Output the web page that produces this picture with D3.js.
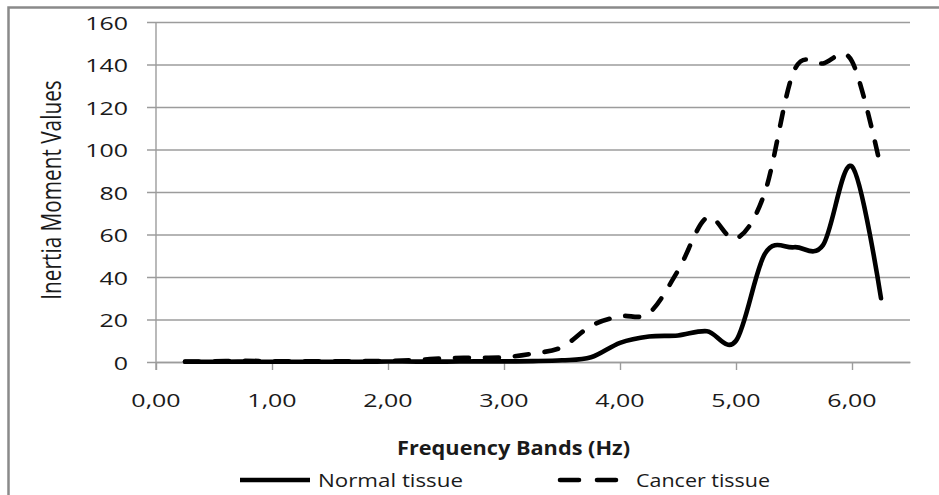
<!DOCTYPE html>
<html>
<head>
<meta charset="utf-8">
<script src="https://cdn.jsdelivr.net/npm/d3@7"></script>
<style>
  body { margin: 0; background: #fff; }
  svg { display: block; }
  text { font-family: "Open Sans", "DejaVu Sans", sans-serif; fill: #1a1a1a; }
</style>
</head>
<body>
<svg id="chart" width="939" height="495"></svg>
<script>
// Frequency bands (Hz) and inertia moment values per tissue type
const freqBands = [0.25, 0.50, 0.75, 1.00, 1.25, 1.50, 1.75, 2.00, 2.25, 2.50, 2.75, 3.00,
                   3.25, 3.50, 3.75, 4.00, 4.25, 4.50, 4.75, 5.00, 5.25, 5.50, 5.75, 6.00, 6.25];
const normalTissue = [0.1, 0.1, 0.2, 0.1, 0.1, 0.1, 0.1, 0.2, 0.2, 0.2, 0.3, 0.3,
                      0.4, 0.8, 2.2, 9, 12, 12.5, 14.5, 10, 51, 54, 55, 92, 30];
const cancerTissue = [0.2, 0.3, 0.6, 0.3, 0.3, 0.3, 0.4, 0.5, 1, 1.8, 2, 2.2,
                      4, 7, 17, 21.5, 23, 43, 68, 58, 80, 137, 140.5, 141.5, 91];
const yTicks = [0, 20, 40, 60, 80, 100, 120, 140, 160];
const xTicks = [0, 1, 2, 3, 4, 5, 6];
const seriesNames = ["Normal tissue", "Cancer tissue"];

const svg = d3.select("#chart");
const gridColor = "#9c9c9c";
const stretch = 1.35;   // glyphs are drawn wide

const x = d3.scaleLinear().domain([0, 6.5]).range([156, 910]);
const y = d3.scaleLinear().domain([0, 160]).range([362, 22]);

// outer frame
svg.append("rect")
  .attr("x", 8.5).attr("y", 7.5).attr("width", 1000).attr("height", 600)
  .attr("fill", "none").attr("stroke", "#8a8a8a").attr("stroke-width", 2.5);

// horizontal gridlines + y ticks
const yAxis = d3.axisLeft(y).tickValues(yTicks).tickSize(-(910 - 156)).tickSizeOuter(0).tickFormat("");
const gy = svg.append("g").attr("transform", "translate(156,0)").call(yAxis);
gy.select(".domain").remove();
gy.selectAll(".tick line").attr("stroke", gridColor).attr("stroke-width", 1.4)
  .attr("x1", -9);

// x axis ticks
const xAxis = d3.axisBottom(x).tickValues(xTicks).tickSize(8).tickSizeOuter(0).tickFormat("");
const gx = svg.append("g").attr("transform", "translate(0,362)").call(xAxis);
gx.select(".domain").attr("stroke", gridColor).attr("stroke-width", 1.4);
gx.selectAll(".tick line").attr("stroke", gridColor).attr("stroke-width", 1.4);

// y axis line
svg.append("line")
  .attr("x1", x(0)).attr("x2", x(0)).attr("y1", y(160)).attr("y2", 370)
  .attr("stroke", gridColor).attr("stroke-width", 1.4);

function wideText(px, py, str, anchor, size) {
  return svg.append("text")
    .attr("transform", `translate(${px},${py}) scale(${stretch},1)`)
    .attr("text-anchor", anchor)
    .style("font-size", size + "px")
    .text(str);
}

// y tick labels
yTicks.forEach(v => wideText(128, y(v) + 7.5, String(v), "end", 18.5));
// x tick labels
const fmt = v => d3.format(".2f")(v).replace(".", ",");
xTicks.forEach(v => wideText(x(v), 407, fmt(v), "middle", 18.5));

// axis titles
svg.append("text")
  .attr("transform", `translate(61,190) scale(${stretch},1) rotate(-90)`)
  .attr("text-anchor", "middle")
  .style("font-size", "20.8px")
  .text("Inertia Moment Values");

svg.append("text")
  .attr("x", 397).attr("y", 455)
  .attr("textLength", 233).attr("lengthAdjust", "spacingAndGlyphs")
  .style("font-size", "20px").style("font-weight", "bold")
  .text("Frequency Bands (Hz)");

// series lines
const line = d3.line()
  .x(d => x(d[0])).y(d => y(d[1]))
  .curve(d3.curveCardinal.tension(0));

const series = [
  { name: seriesNames[0], values: normalTissue, dash: null },
  { name: seriesNames[1], values: cancerTissue, dash: "14,16" }
];

series.forEach(s => {
  svg.append("path")
    .datum(freqBands.map((f, i) => [f, s.values[i]]))
    .attr("d", line)
    .attr("fill", "none")
    .attr("stroke", "#000")
    .attr("stroke-width", 4.6)
    .attr("stroke-linecap", "round")
    .attr("stroke-linejoin", "round")
    .attr("stroke-dasharray", s.dash);
});

// legend
const legendItems = [
  { x0: 240, x1: 310, tx: 318, tw: 145, dash: null },
  { x0: 560, x1: 617, tx: 636, tw: 134, dash: "19,18" }
];
legendItems.forEach((it, i) => {
  svg.append("line")
    .attr("x1", it.x0).attr("x2", it.x1).attr("y1", 480).attr("y2", 480)
    .attr("stroke", "#000").attr("stroke-width", 4.6)
    .attr("stroke-linecap", it.dash ? "round" : "butt")
    .attr("stroke-dasharray", it.dash);
  svg.append("text")
    .attr("x", it.tx).attr("y", 487)
    .attr("textLength", it.tw).attr("lengthAdjust", "spacingAndGlyphs")
    .style("font-size", "19px")
    .text(series[i].name);
});
</script>
</body>
</html>
